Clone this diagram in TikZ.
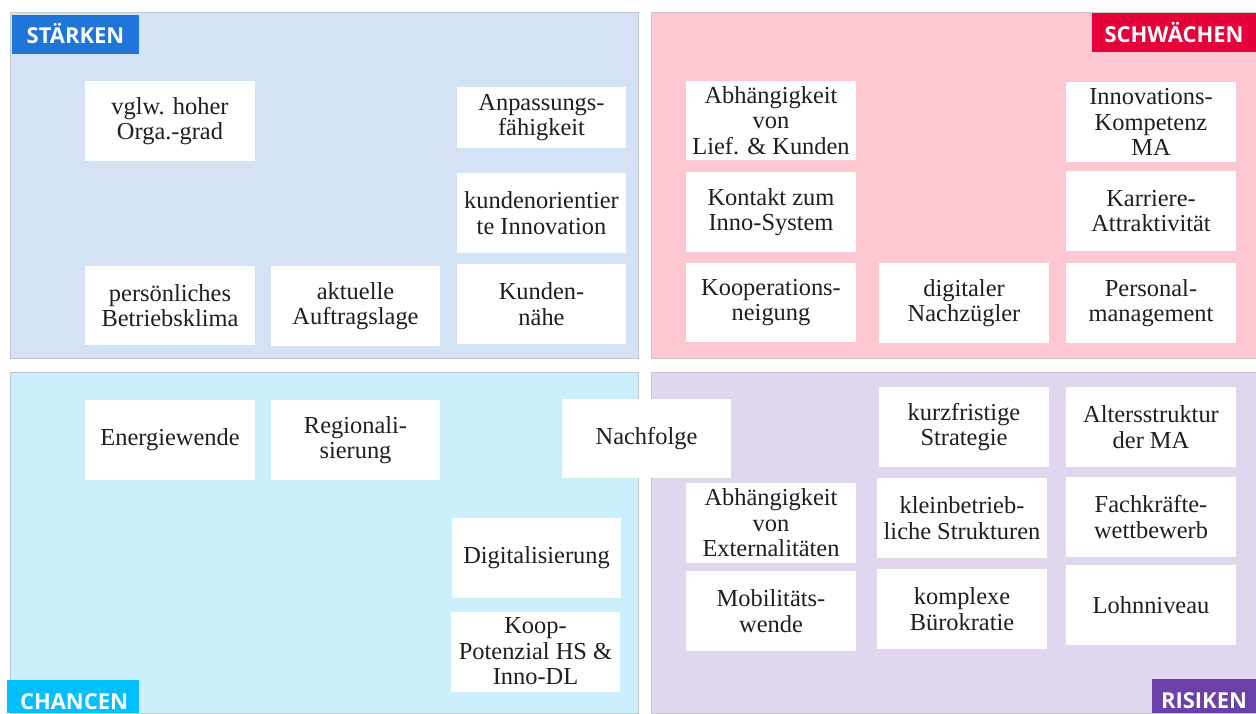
\documentclass[tikz,border=0pt]{standalone}
\usepackage{fontspec}
\setmainfont{Liberation Serif}
\newfontfamily\tagfont{Open Sans}

\definecolor{fieldblue}{HTML}{D3E2F5}
\definecolor{fieldpink}{HTML}{FEC8D3}
\definecolor{fieldcyan}{HTML}{CCEFFD}
\definecolor{fieldlilac}{HTML}{E0D7EF}
\definecolor{tagblue}{HTML}{1F75D8}
\definecolor{tagred}{HTML}{E6003A}
\definecolor{tagcyan}{HTML}{00BFFF}
\definecolor{tagviolet}{HTML}{6B40A8}

\begin{document}
\begin{tikzpicture}[x=0.02cm,y=-0.02cm]

      % Size of one white card
      \def\cw{3.4cm}    % card width
      \def\ch{1.6cm}    % card height

      % Styles for the four fields, the coloured title tags and the cards
      \tikzstyle{field}=[draw=black!22, line width=0.5pt]
      \tikzstyle{tag}=[text=white, anchor=base, inner sep=0pt, font=\tagfont\bfseries\fontsize{12.5}{14}\selectfont]
      \tikzstyle{card}=[fill=white, draw=none, minimum width=\cw, minimum height=\ch, inner sep=1pt, align=center, text=black!88, font=\fontsize{13.9}{14.5}\selectfont]

      \useasboundingbox (0,0) rectangle (1256,713);

      % The four fields
      \draw [field, fill=fieldblue]  (10,12)   rectangle (638,358);
      \draw [field, fill=fieldpink]  (651,12)  rectangle (1256,358);
      \draw [field, fill=fieldcyan]  (10,372)  rectangle (638,713);
      \draw [field, fill=fieldlilac] (651,372) rectangle (1256,713);

      % Title tags in the corners
      \fill [tagblue]   (12,15)    rectangle (139,54);
      \node [tag] (staerken) at (75.5,44) {STÄRKEN};
      \fill [tagred]    (1092,13)  rectangle (1256,52);
      \node [tag] (schwaechen) at (1174,43) {SCHWÄCHEN};
      \fill [tagcyan]   (7,680)    rectangle (139,713);
      \node [tag] (chancen) at (74,709) {CHANCEN};
      \fill [tagviolet] (1152,679) rectangle (1256,713);
      \node [tag] (risiken) at (1204,708) {RISIKEN};

      % Staerken
      \node [card] (orga)       at (170,121)   {vglw. hoher\\Orga.-grad};
      \node [card, minimum height=1.22cm] (anpassung) at (541.5,117.5) {Anpassungs-\\fähigkeit};
      \node [card] (kundinno)   at (541.5,213) {kundenorientier\\te Innovation};
      \node [card] (klima)      at (170,305.5) {persönliches\\Betriebsklima};
      \node [card] (auftrag)    at (355.5,306) {aktuelle\\Auftragslage};
      \node [card] (kundennah)  at (541.5,304) {Kunden-\\nähe};

      % Schwaechen
      \node [card] (abhlief)    at (771,120.5) {Abhängigkeit\\von\\Lief. \& Kunden};
      \node [card] (innokomp)   at (1151,122)  {Innovations-\\Kompetenz\\MA};
      \node [card] (kontakt)    at (771,212)   {Kontakt zum\\Inno-System};
      \node [card] (karriere)   at (1151,211)  {Karriere-\\Attraktivität};
      \node [card] (koopneig)   at (771,302.5) {Kooperations-\\neigung};
      \node [card] (nachzug)    at (964,303)   {digitaler\\Nachzügler};
      \node [card] (personal)   at (1151,303)  {Personal-\\management};

      % Chancen
      \node [card] (energie)    at (170,440)   {Energiewende};
      \node [card] (regional)   at (355.5,440) {Regionali-\\sierung};
      \node [card] (digital)    at (536.5,558) {Digitalisierung};
      \node [card] (kooppot)    at (535.5,651.5) {Koop-\\Potenzial HS \&\\Inno-DL};

      % Risiken
      \node [card] (kurzfrist)  at (964,427)   {kurzfristige\\Strategie};
      \node [card] (alter)      at (1151,427)  {Altersstruktur\\der MA};
      \node [card] (abhext)     at (771,523)   {Abhängigkeit\\von\\Externalitäten};
      \node [card] (kleinbetr)  at (962,518)   {kleinbetrieb-\\liche Strukturen};
      \node [card] (fachkraft)  at (1151,517)  {Fachkräfte-\\wettbewerb};
      \node [card] (mobil)      at (771,611)   {Mobilitäts-\\wende};
      \node [card] (buero)      at (962,609)   {komplexe\\Bürokratie};
      \node [card] (lohn)       at (1151,605)  {Lohnniveau};

      % Sits across the two lower fields
      \node [card] (nachfolge)  at (646.5,438.5) {Nachfolge};

\end{tikzpicture}
\end{document}
